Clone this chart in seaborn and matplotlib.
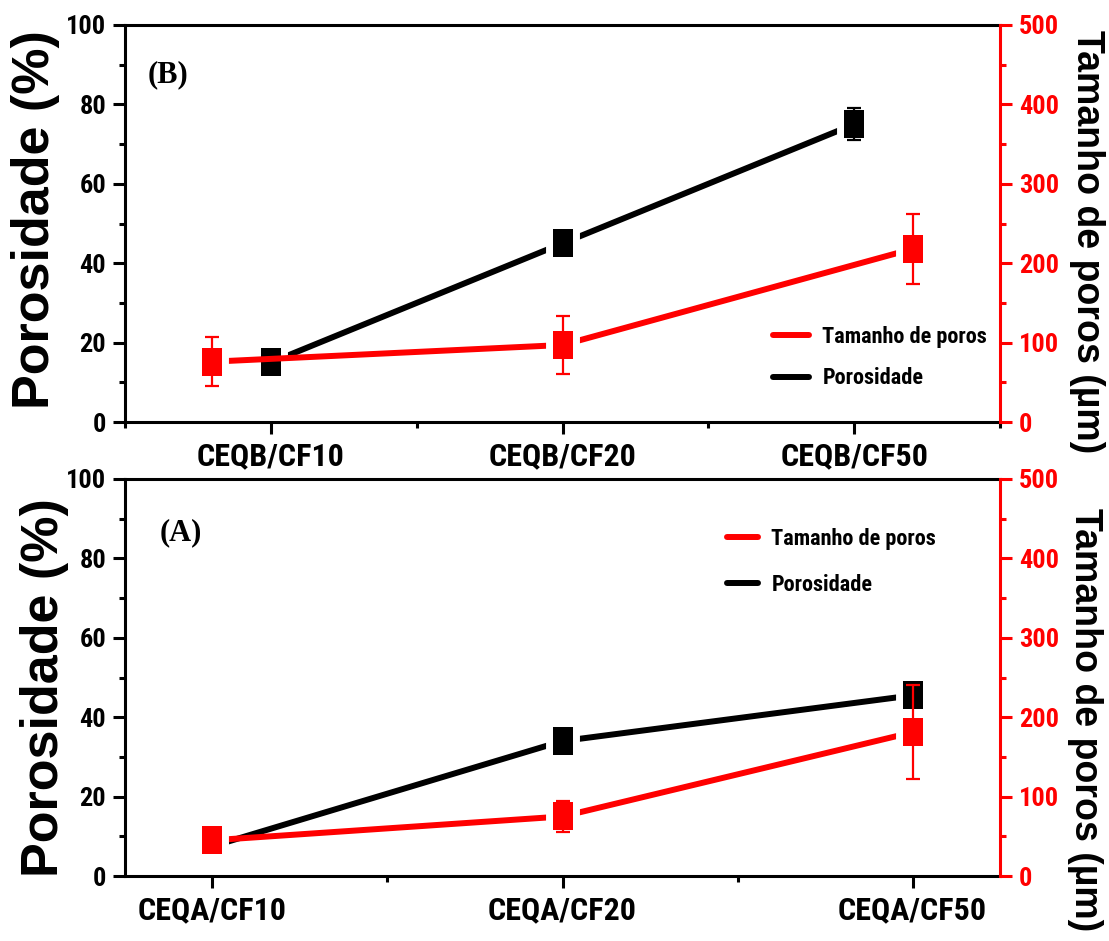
import numpy as np
import pandas as pd
import seaborn as sns
import matplotlib
matplotlib.use("Agg")
import matplotlib.pyplot as plt
from matplotlib import font_manager
from matplotlib.lines import Line2D
from matplotlib.ticker import MultipleLocator, FixedLocator

# ---- data ----------------------------------------------------------------
cats_B = ["CEQB/CF10", "CEQB/CF20", "CEQB/CF50"]
poros_B = [15, 45, 75]            # porosidade (%)
poros_B_err = [2, 2, 4]
tam_B = [76, 97, 218]             # tamanho de poros (um)
tam_B_err = [31, 36, 44]

cats_A = ["CEQA/CF10", "CEQA/CF20", "CEQA/CF50"]
poros_A = [7.5, 34, 45.5]
poros_A_err = [1.5, 1.5, 3]
tam_A = [45, 75, 181]
tam_A_err = [8, 19, 59]

legend_labels = ["Tamanho de poros", "Porosidade"]

# ---- style ---------------------------------------------------------------
sns.set_style("ticks")
names = {f.name for f in font_manager.fontManager.ttflist}
NARROW = dict(family="DejaVu Sans", weight="bold", stretch="condensed")
for cand in ["Liberation Sans Narrow", "Arial Narrow", "Roboto Condensed",
             "Open Sans Condensed", "Noto Sans Condensed"]:
    if cand in names:
        NARROW = dict(family=cand, weight="bold")
        break
WIDE = dict(family=["Liberation Sans", "DejaVu Sans"], weight="bold")
SERIF = dict(family=["Liberation Serif", "DejaVu Serif"], weight="bold")
plt.rcParams["font.family"] = ["Liberation Sans", "DejaVu Sans"]
for key in ["text.color", "axes.labelcolor", "xtick.color", "ytick.color",
            "axes.edgecolor"]:
    plt.rcParams[key] = "black"

RED = "#ff0000"
BLACK = "#000000"
RECT = [(-0.36, -0.5), (0.36, -0.5), (0.36, 0.5), (-0.36, 0.5), (-0.36, -0.5)]
SPINE_W = 2.2
LINE_W = 4.3
TICK_FP = font_manager.FontProperties(size=19, **NARROW)
XTICK_FP = font_manager.FontProperties(size=23, **NARROW)
LEG_FP = font_manager.FontProperties(size=16, **NARROW)

fig = plt.figure(figsize=(11.09, 9.41), dpi=100)


def draw_series(ax, x, y, err, color):
    df = pd.DataFrame({"x": x, "y": y})
    sns.lineplot(data=df, x="x", y="y", ax=ax, color=color, lw=LINE_W,
                 zorder=2, legend=False)
    # white halo gives the gap between line and marker
    ax.plot(x, y, ls="none", marker=RECT, ms=20, mfc="white", mec="white",
            mew=10, zorder=3)
    ax.errorbar(x, y, yerr=err, fmt="none", ecolor=color, elinewidth=1.6,
                capsize=5, capthick=1.6, zorder=4)
    ax.plot(x, y, ls="none", marker=RECT, ms=20, mfc=color, mec=color,
            mew=0, zorder=5)


def style_left(ax, cats, xlim, minor):
    ax.set_xlim(*xlim)
    ax.set_ylim(0, 100)
    ax.xaxis.set_major_locator(FixedLocator([1, 2, 3]))
    ax.xaxis.set_minor_locator(FixedLocator(minor))
    ax.set_xticklabels(cats)
    for lab in ax.get_xticklabels():
        lab.set_fontproperties(XTICK_FP)
    ax.yaxis.set_major_locator(MultipleLocator(20))
    ax.yaxis.set_minor_locator(MultipleLocator(10))
    for lab in ax.get_yticklabels():
        lab.set_fontproperties(TICK_FP)
    ax.tick_params(axis="both", which="major", length=8.6, width=SPINE_W,
                   direction="out", color=BLACK, labelcolor=BLACK)
    ax.tick_params(axis="both", which="minor", length=4.5, width=SPINE_W,
                   direction="out", color=BLACK)
    ax.tick_params(axis="x", which="major", pad=5)
    ax.tick_params(axis="y", which="major", pad=5)
    for side in ["left", "bottom", "top"]:
        ax.spines[side].set_linewidth(SPINE_W)
        ax.spines[side].set_color(BLACK)
    ax.spines["right"].set_visible(False)
    ax.set_xlabel("")
    ax.set_ylabel("Porosidade (%)", fontsize=37.5, va="center", ha="center",
                  **WIDE)


def style_right(ax, xlim):
    ax.set_xlim(*xlim)
    ax.set_ylim(0, 500)
    ax.patch.set_visible(False)
    ax.xaxis.set_visible(False)
    ax.yaxis.tick_right()
    ax.yaxis.set_label_position("right")
    ax.yaxis.set_major_locator(MultipleLocator(100))
    ax.yaxis.set_minor_locator(MultipleLocator(50))
    for side in ["left", "bottom", "top"]:
        ax.spines[side].set_visible(False)
    ax.spines["right"].set_visible(True)
    ax.spines["right"].set_color(RED)
    ax.spines["right"].set_linewidth(SPINE_W)
    ax.tick_params(axis="y", which="major", length=8.6, width=SPINE_W,
                   color=RED, labelcolor=RED, pad=5, direction="out",
                   left=False, right=True)
    ax.tick_params(axis="y", which="minor", length=4.5, width=SPINE_W,
                   color=RED, direction="out", left=False, right=True)
    for lab in ax.get_yticklabels():
        lab.set_fontproperties(TICK_FP)
    ax.set_xlabel("")
    ax.set_ylabel("Tamanho de poros (\u00b5m)", fontsize=27, color=BLACK,
                  rotation=270, va="center", ha="center", **WIDE)


def add_legend(ax, anchor, spacing, hlen):
    handles = [Line2D([], [], color=RED, lw=LINE_W),
               Line2D([], [], color=BLACK, lw=LINE_W)]
    ax.legend(handles, legend_labels, loc="upper left", bbox_to_anchor=anchor,
              frameon=False, borderpad=0, borderaxespad=0, handlelength=hlen,
              handletextpad=0.6, labelspacing=spacing, prop=LEG_FP)


x = np.arange(1, len(cats_B) + 1)
rect_top = [125 / 1109, 1 - 422 / 941, 875 / 1109, 397 / 941]
rect_bot = [125 / 1109, 1 - 876 / 941, 875 / 1109, 397 / 941]

# ---- panel B (top) ---------------------------------------------------------
axB = fig.add_axes(rect_top)
draw_series(axB, x, poros_B, poros_B_err, BLACK)
style_left(axB, cats_B, (0.5, 3.5), [0.5, 1.5, 2.5, 3.5])
axB.yaxis.set_label_coords(-0.102, 0.51)
axB.text(0.026, 0.875, "(B)", transform=axB.transAxes, fontsize=22,
         va="center", ha="left", **SERIF)

axB2 = fig.add_axes(rect_top)
draw_series(axB2, x, tam_B, tam_B_err, RED)
style_right(axB2, (0.75, 3.25))
axB2.yaxis.set_label_coords(1.099, 0.455)
add_legend(axB2, (0.741, 0.242), 0.88, 1.6)

# ---- panel A (bottom) -------------------------------------------------------
axA = fig.add_axes(rect_bot)
draw_series(axA, x, poros_A, poros_A_err, BLACK)
style_left(axA, cats_A, (0.75, 3.25), [1.5, 2.5])
axA.yaxis.set_label_coords(-0.092, 0.475)
axA.text(0.04, 0.865, "(A)", transform=axA.transAxes, fontsize=22,
         va="center", ha="left", **SERIF)

axA2 = fig.add_axes(rect_bot)
draw_series(axA2, x, tam_A, tam_A_err, RED)
style_right(axA2, (0.75, 3.25))
axA2.yaxis.set_label_coords(1.097, 0.395)
add_legend(axA2, (0.688, 0.877), 1.08, 1.4)

fig.savefig("out.png", dpi=100)
